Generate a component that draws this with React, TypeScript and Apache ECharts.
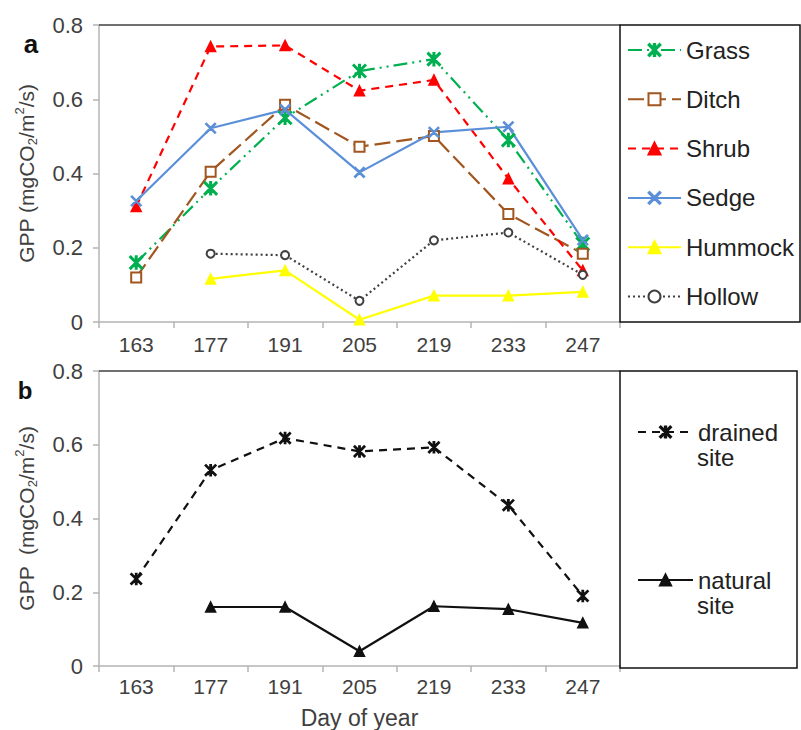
import React, { useEffect, useRef } from 'react';
import * as echarts from 'echarts';

const days = ['163', '177', '191', '205', '219', '233', '247'];
const grass = [0.16, 0.36, 0.55, 0.676, 0.708, 0.49, 0.21];
const ditch = [0.12, 0.405, 0.585, 0.472, 0.501, 0.291, 0.184];
const shrub = [0.311, 0.742, 0.745, 0.623, 0.652, 0.386, 0.139];
const sedge = [0.326, 0.522, 0.572, 0.403, 0.511, 0.526, 0.221];
const hummock = [null, 0.116, 0.139, 0.006, 0.071, 0.071, 0.081];
const hollow = [null, 0.184, 0.18, 0.057, 0.22, 0.241, 0.127];
const drained = [0.236, 0.531, 0.618, 0.582, 0.593, 0.436, 0.19];
const natural = [null, 0.16, 0.16, 0.04, 0.162, 0.154, 0.117];

const FONT = '"Liberation Sans", Arial, sans-serif';
const TXT = '#404040';
const AX = '#b4b4b4';

const ASTERISK = 'path://M0,0.8L0.8,0L10,9.2L9.2,10ZM0.8,10L0,9.2L9.2,0L10,0.8ZM4.4,0L5.6,0L5.6,10L4.4,10Z';
const XMARK = 'path://M0,0.8L0.8,0L10,9.2L9.2,10ZM0.8,10L0,9.2L9.2,0L10,0.8Z';

const nameA = '{a|GPP (mgCO}{s|2}{a|/m}{p|2}{a|/s)}';
const nameB = '{a|GPP  (mgCO}{s|2}{a|/m}{p|2}{a|/s)}';
const richY = {
  a: { fontSize: 21, lineHeight: 26, color: TXT, fontFamily: FONT },
  s: { fontSize: 13, lineHeight: 13, verticalAlign: 'bottom', color: TXT, fontFamily: FONT },
  p: { fontSize: 13, lineHeight: 14, verticalAlign: 'top', color: TXT, fontFamily: FONT },
};

function xAxis(gridIndex: number, withName: boolean, margin: number) {
  return {
    type: 'category',
    gridIndex,
    data: days,
    boundaryGap: true,
    axisLine: { show: true, lineStyle: { color: AX, width: 1.5 } },
    axisTick: { show: true, length: 6, lineStyle: { color: AX, width: 1.5 } },
    axisLabel: { color: TXT, fontSize: 21, fontFamily: FONT, margin },
    name: withName ? 'Day of year' : '',
    nameLocation: 'middle',
    nameGap: 40,
    nameTextStyle: { color: TXT, fontSize: 23, fontFamily: FONT },
  };
}
function yAxis(gridIndex: number, name: string) {
  return {
    type: 'value',
    gridIndex,
    min: 0,
    max: 0.8,
    interval: 0.2,
    splitLine: { show: false },
    axisLine: { show: true, lineStyle: { color: AX, width: 1.5 } },
    axisTick: { show: true, length: 6, lineStyle: { color: AX, width: 1.5 } },
    axisLabel: { color: TXT, fontSize: 22, fontFamily: FONT, margin: 16 },
    name,
    nameLocation: 'middle',
    nameRotate: 90,
    nameGap: 60,
    nameTextStyle: { rich: richY },
  };
}

function lineSeries(name: string, data: (number | null)[], idx: number, color: string, type: any, symbol: string, size: number) {
  return {
    name,
    type: 'line',
    xAxisIndex: idx,
    yAxisIndex: idx,
    data,
    symbol,
    symbolSize: size,
    lineStyle: { color, width: 2.2, type },
    itemStyle: { color, borderColor: color, borderWidth: 1.5 },
    connectNulls: false,
  };
}

export default function App() {
  const ref = useRef<HTMLDivElement>(null);
  useEffect(() => {
    document.body.style.margin = '0';
    const chart = echarts.init(ref.current!, undefined, { renderer: 'svg' });
    const legendText = { color: '#222', fontSize: 24, fontFamily: FONT, lineHeight: 24 };
    chart.setOption({
      animation: false,
      backgroundColor: '#fff',
      grid: [
        { left: 99, top: 25, width: 521, height: 297 },
        { left: 99, top: 371, width: 521, height: 297 },
      ],
      xAxis: [xAxis(0, false, 12), xAxis(1, true, 10)],
      yAxis: [yAxis(0, nameA), yAxis(1, nameB)],
      legend: [
        {
          orient: 'vertical',
          left: 627,
          top: 38,
          padding: 0,
          itemWidth: 53,
          itemHeight: 15,
          itemGap: 25.3,
          selectedMode: false,
          textStyle: legendText,
          data: ['Grass', 'Ditch', 'Shrub', 'Sedge', 'Hummock', 'Hollow'],
        },
        {
          orient: 'vertical',
          left: 637,
          top: 420,
          padding: 0,
          itemWidth: 55,
          itemHeight: 14,
          itemGap: 124,
          selectedMode: false,
          textStyle: legendText,
          formatter: (n: string) => n.split(' ')[0],
          data: ['drained site', 'natural site'],
        },
      ],
      series: [
        lineSeries('Grass', grass, 0, '#00b050', [14, 5, 2, 5, 2, 5], ASTERISK, 13),
        lineSeries('Ditch', ditch, 0, '#a0561e', [16, 6], 'emptyRect', 10),
        lineSeries('Shrub', shrub, 0, '#ff0000', [8, 6], 'triangle', 10),
        lineSeries('Sedge', sedge, 0, '#5b8fd8', 'solid', XMARK, 10),
        lineSeries('Hummock', hummock, 0, '#ffff00', 'solid', 'triangle', 10),
        lineSeries('Hollow', hollow, 0, '#404040', [2, 3], 'emptyCircle', 8),
        lineSeries('drained site', drained, 1, '#111111', [8, 6], ASTERISK, 11),
        lineSeries('natural site', natural, 1, '#111111', 'solid', 'triangle', 10),
      ],
      graphic: [
        { type: 'line', z: 100, shape: { x1: 99, y1: 25, x2: 620, y2: 25 }, style: { stroke: '#404040', lineWidth: 1.5 } },
        { type: 'rect', z: 100, shape: { x: 620, y: 25, width: 180, height: 297 }, style: { fill: 'none', stroke: '#111', lineWidth: 1.5 } },
        { type: 'line', z: 100, shape: { x1: 99, y1: 371, x2: 620, y2: 371 }, style: { stroke: '#404040', lineWidth: 1.5 } },
        { type: 'rect', z: 100, shape: { x: 620, y: 371, width: 177, height: 297 }, style: { fill: 'none', stroke: '#111', lineWidth: 1.5 } },
        { type: 'text', z: 100, x: 31, y: 44, style: { text: 'a', fontSize: 26, fontWeight: 'bold', fontFamily: FONT, fill: '#111', align: 'center', verticalAlign: 'middle' } },
        { type: 'text', z: 100, x: 25, y: 390, style: { text: 'b', fontSize: 24, fontWeight: 'bold', fontFamily: FONT, fill: '#111', align: 'center', verticalAlign: 'middle' } },
        { type: 'text', z: 100, x: 697, y: 457, style: { text: 'site', fontSize: 24, fontFamily: FONT, fill: '#222', verticalAlign: 'middle' } },
        { type: 'text', z: 100, x: 697, y: 605, style: { text: 'site', fontSize: 24, fontFamily: FONT, fill: '#222', verticalAlign: 'middle' } },
      ],
    });
    return () => chart.dispose();
  }, []);
  return <div ref={ref} style={{ width: 801, height: 730 }} />;
}
